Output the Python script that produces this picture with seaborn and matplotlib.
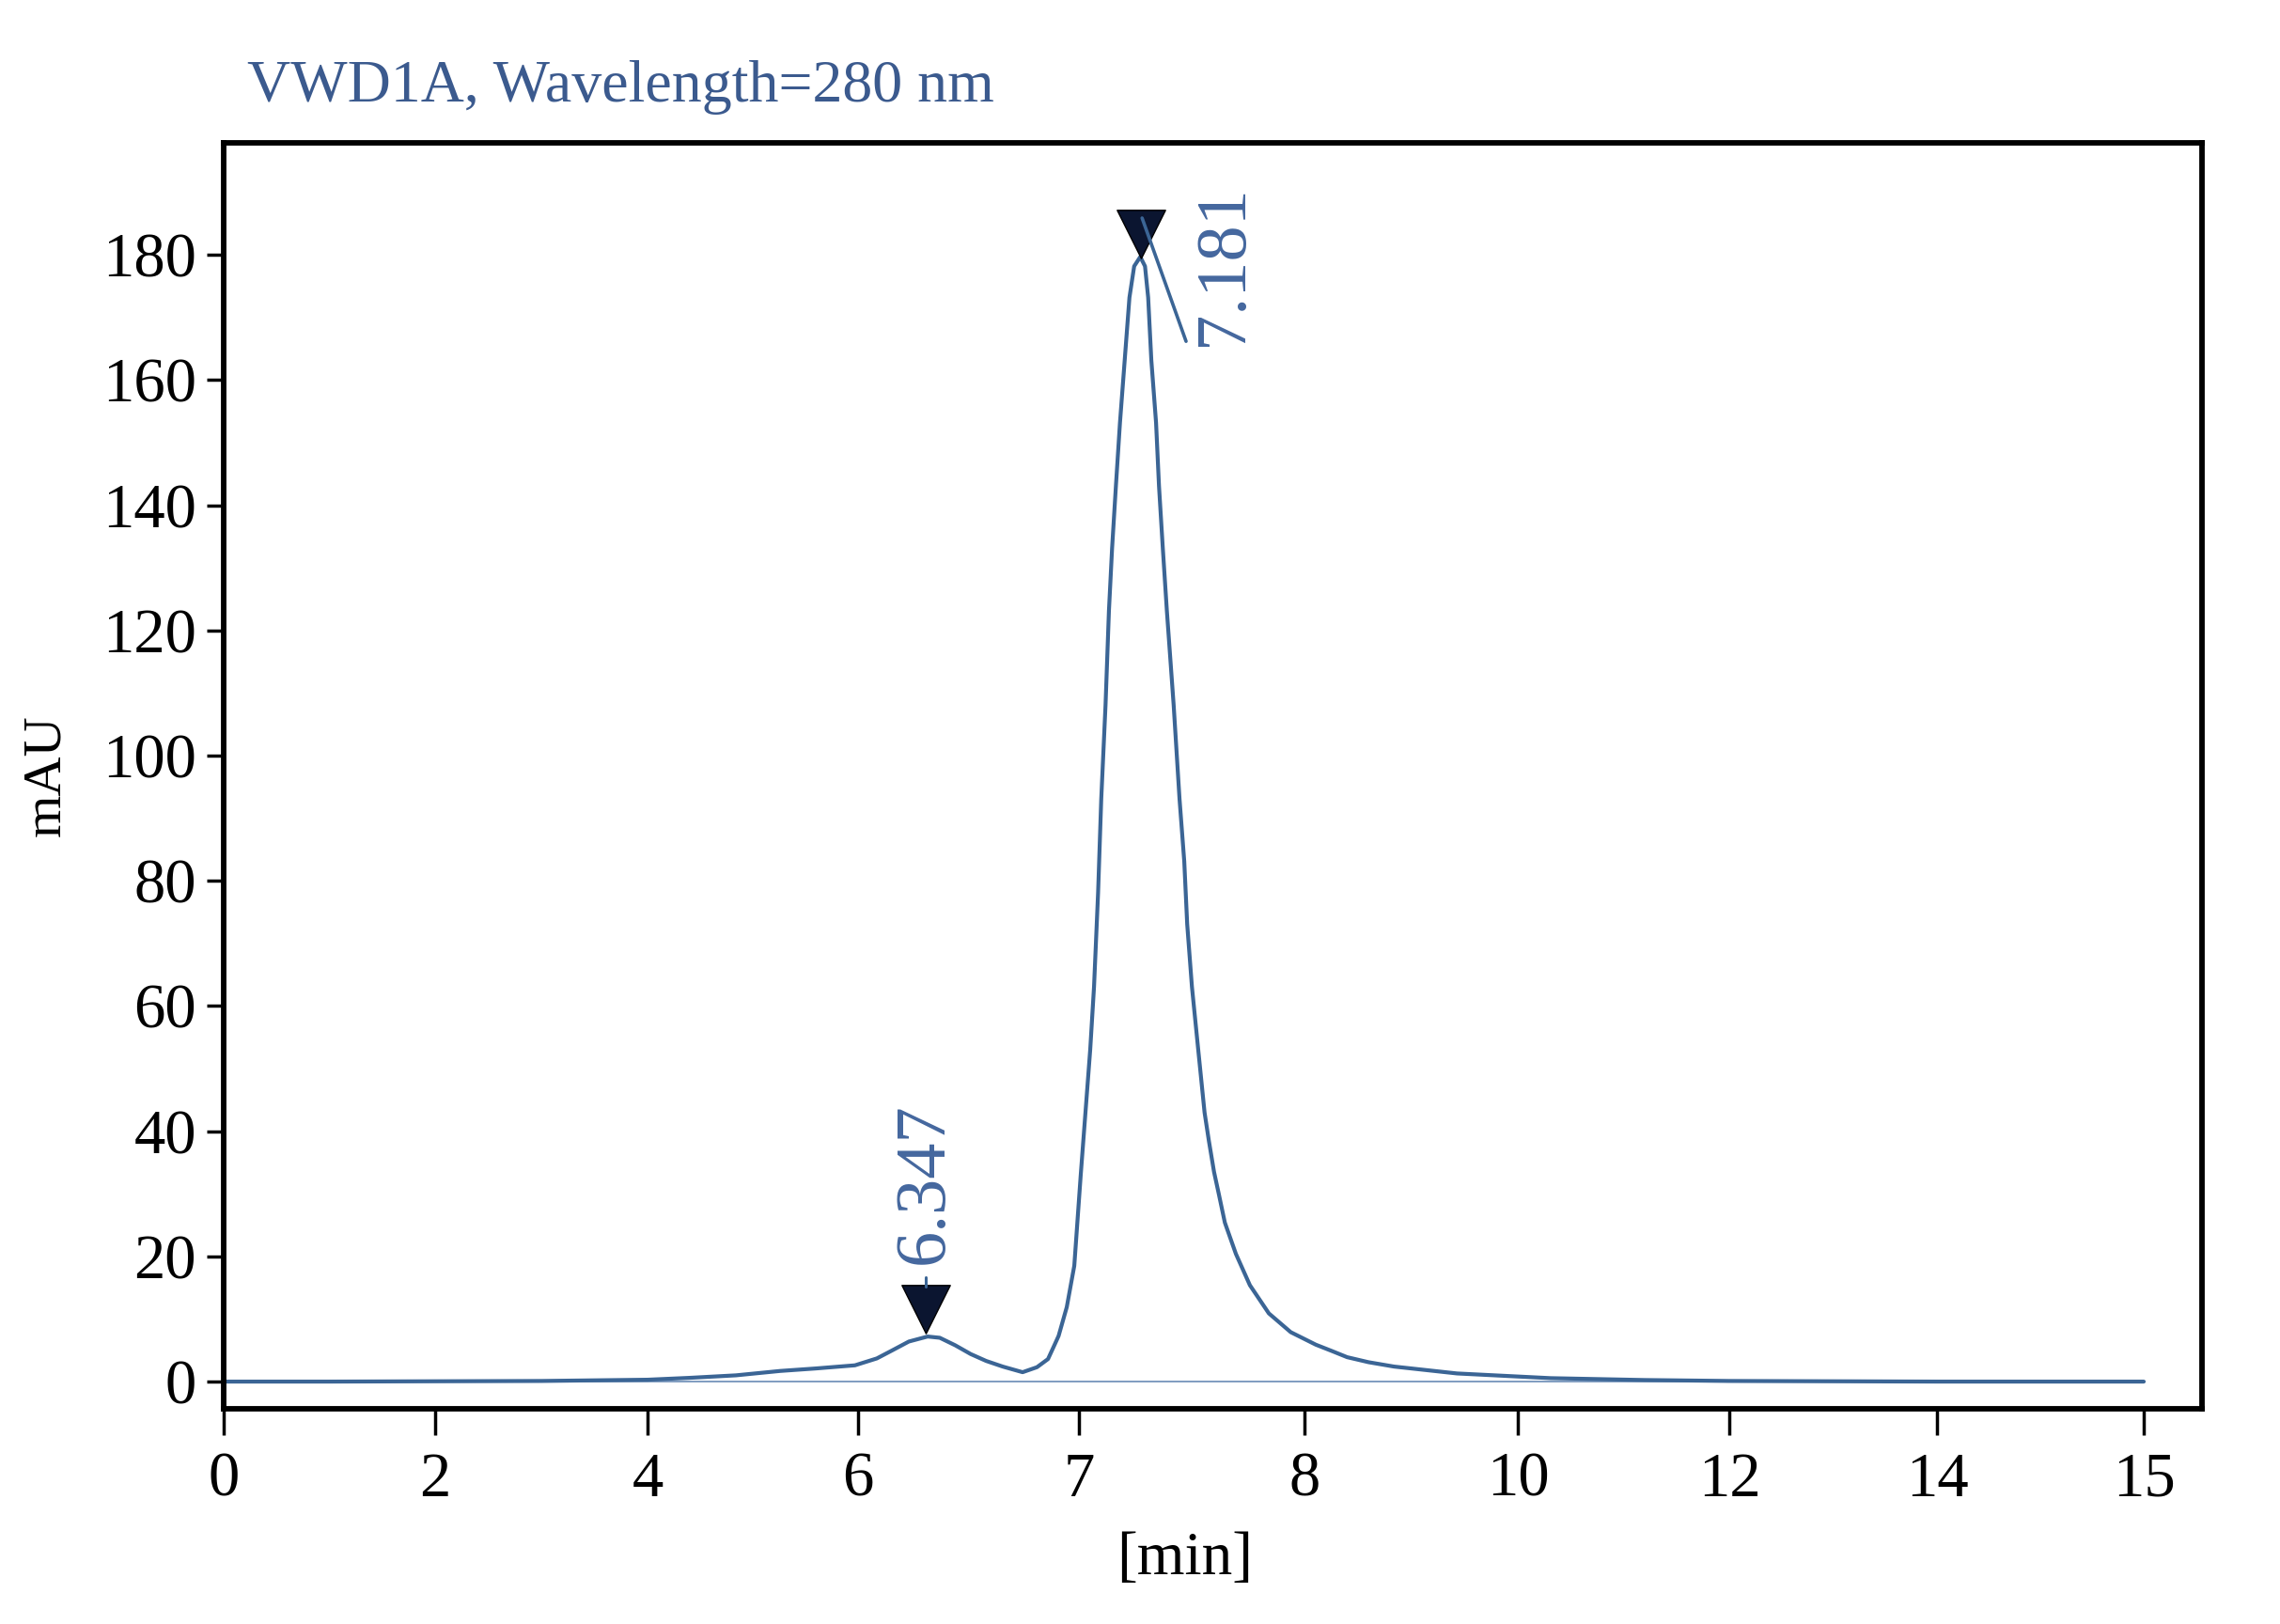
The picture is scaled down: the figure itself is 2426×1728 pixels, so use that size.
import numpy as np
import matplotlib
matplotlib.use("Agg")
import matplotlib.pyplot as plt
import seaborn as sns

# chromatogram trace (time in min, signal in mAU)
time_min = [0, 1, 2, 3, 4, 4.4, 4.84, 5.26, 5.6, 5.97, 6.085, 6.15, 6.23, 6.315,
            6.37, 6.44, 6.51, 6.58, 6.655, 6.745, 6.81, 6.86, 6.89, 6.908, 6.945,
            6.979, 7.008, 7.029, 7.05, 7.067, 7.085, 7.099, 7.118, 7.133, 7.147,
            7.164, 7.182, 7.203, 7.224, 7.245, 7.272, 7.293, 7.307, 7.321, 7.342,
            7.355, 7.372, 7.39, 7.42, 7.446, 7.467, 7.48, 7.501, 7.529, 7.557,
            7.576, 7.599, 7.62, 7.647, 7.696, 7.758, 7.842, 7.939, 8.106, 8.255,
            8.4, 8.6, 8.84, 9.43, 10.31, 11.2, 12, 13, 14, 15]
signal_mau = [0.0, 0.0, 0.05, 0.1, 0.3, 0.6, 1.0, 1.7, 2.1, 2.6, 3.7, 4.9, 6.4, 7.2,
              7.0, 5.8, 4.4, 3.3, 2.4, 1.5, 2.3, 3.6, 5.9, 7.3, 11.9,
              18.5, 33.0, 43.0, 53.0, 63.1, 78.1, 93.1, 108.1, 123.1, 133.1,
              143.1, 153.2, 163.2, 173.2, 178.2, 179.7, 178.2, 173.2, 163.2, 153.2,
              143.1, 133.1, 123.1, 108.1, 93.1, 83.1, 73.1, 63.1, 53.0, 43.0,
              38.5, 33.5, 30.0, 25.4, 20.4, 15.4, 10.9, 7.9, 5.9, 4.9,
              3.9, 3.1, 2.4, 1.3, 0.55, 0.25, 0.1, 0.05, 0.0, 0.0]

tick_min = [0, 2, 4, 6, 7, 8, 10, 12, 14, 15]
y_ticks = [0, 20, 40, 60, 80, 100, 120, 140, 160, 180]

# peak annotations
peak_labels = ["6.347", "7.181"]
marker_x = [6.305, 7.273]
marker_y = [11.5, 183.4]
label_x = [6.305, 7.642]
label_y = [18.75, 165.5]
leader_small_x = [6.305, 6.305]
leader_small_y = [15.25, 16.75]
leader_main_x = [7.28, 7.475]
leader_main_y = [185.9, 166.2]

# the time axis on the printout is not linear: anchor points of the scale
scale_min = [0, 2, 4, 6, 7, 8, 10, 12, 14, 15, 16]
scale_pos = [0, 225, 451, 675, 910, 1150, 1377, 1602, 1823, 2043, 2263]

line_color = "#3b6595"
text_color = "#44679e"


def fwd(x):
    return np.interp(x, scale_min, scale_pos)


def inv(p):
    return np.interp(p, scale_pos, scale_min)


sns.set_theme(style="ticks")
plt.rcParams["font.family"] = ["Liberation Serif", "DejaVu Serif"]

fig = plt.figure(figsize=(24.26, 17.28), dpi=100)
ax = fig.add_axes([0.0981, 0.1325, 0.8677, 0.7795])
ax.set_xscale("function", functions=(fwd, inv))

# baseline under the trace
ax.plot([time_min[0], time_min[-1]], [0, 0], color="#7f9cc0", lw=1.4, zorder=1)

sns.lineplot(x=time_min, y=signal_mau, ax=ax, color=line_color, linewidth=3.0,
             estimator=None, sort=False, zorder=2)

sns.scatterplot(x=marker_x, y=marker_y, ax=ax, marker="v", s=37 ** 2,
                color="#0b1530", edgecolor="black", linewidth=1, zorder=3)

ax.plot(leader_small_x, leader_small_y, color=line_color, lw=2.2, zorder=4)
ax.plot(leader_main_x, leader_main_y, color=line_color, lw=2.6, zorder=4)

for lx, ly, txt in zip(label_x, label_y, peak_labels):
    ax.text(lx, ly, txt, rotation=90, ha="center", va="bottom", fontsize=55,
            color=text_color, zorder=5)

ax.set_xlim(0, inv(2105))
ax.set_ylim(-4.35, 197.9)
ax.set_xticks(tick_min)
ax.set_xticklabels([str(t) for t in tick_min])
ax.set_yticks(y_ticks)
ax.set_yticklabels([str(t) for t in y_ticks])
ax.minorticks_off()

for side in ["left", "right", "top", "bottom"]:
    ax.spines[side].set_visible(True)
    ax.spines[side].set_color("black")
    ax.spines[side].set_linewidth(4.2)

ax.tick_params(axis="x", direction="out", length=20, width=2.5, pad=13,
               labelsize=48, colors="black")
ax.tick_params(axis="y", direction="out", length=13, width=2.5, pad=8,
               labelsize=48, colors="black")

ax.set_xlabel("[min]", fontsize=47, color="black")
ax.xaxis.set_label_coords(0.486, -0.0965)
ax.set_ylabel("mAU", fontsize=42, color="black")
ax.yaxis.set_label_coords(-0.0774, 0.5)

ax.text(0.0119, 1.0327, "VWD1A, Wavelength=280 nm", transform=ax.transAxes,
        ha="left", va="baseline", fontsize=46, color="#3b5a8e")

ax.set_facecolor("white")
fig.patch.set_facecolor("white")
fig.savefig("out.png", dpi=100)
